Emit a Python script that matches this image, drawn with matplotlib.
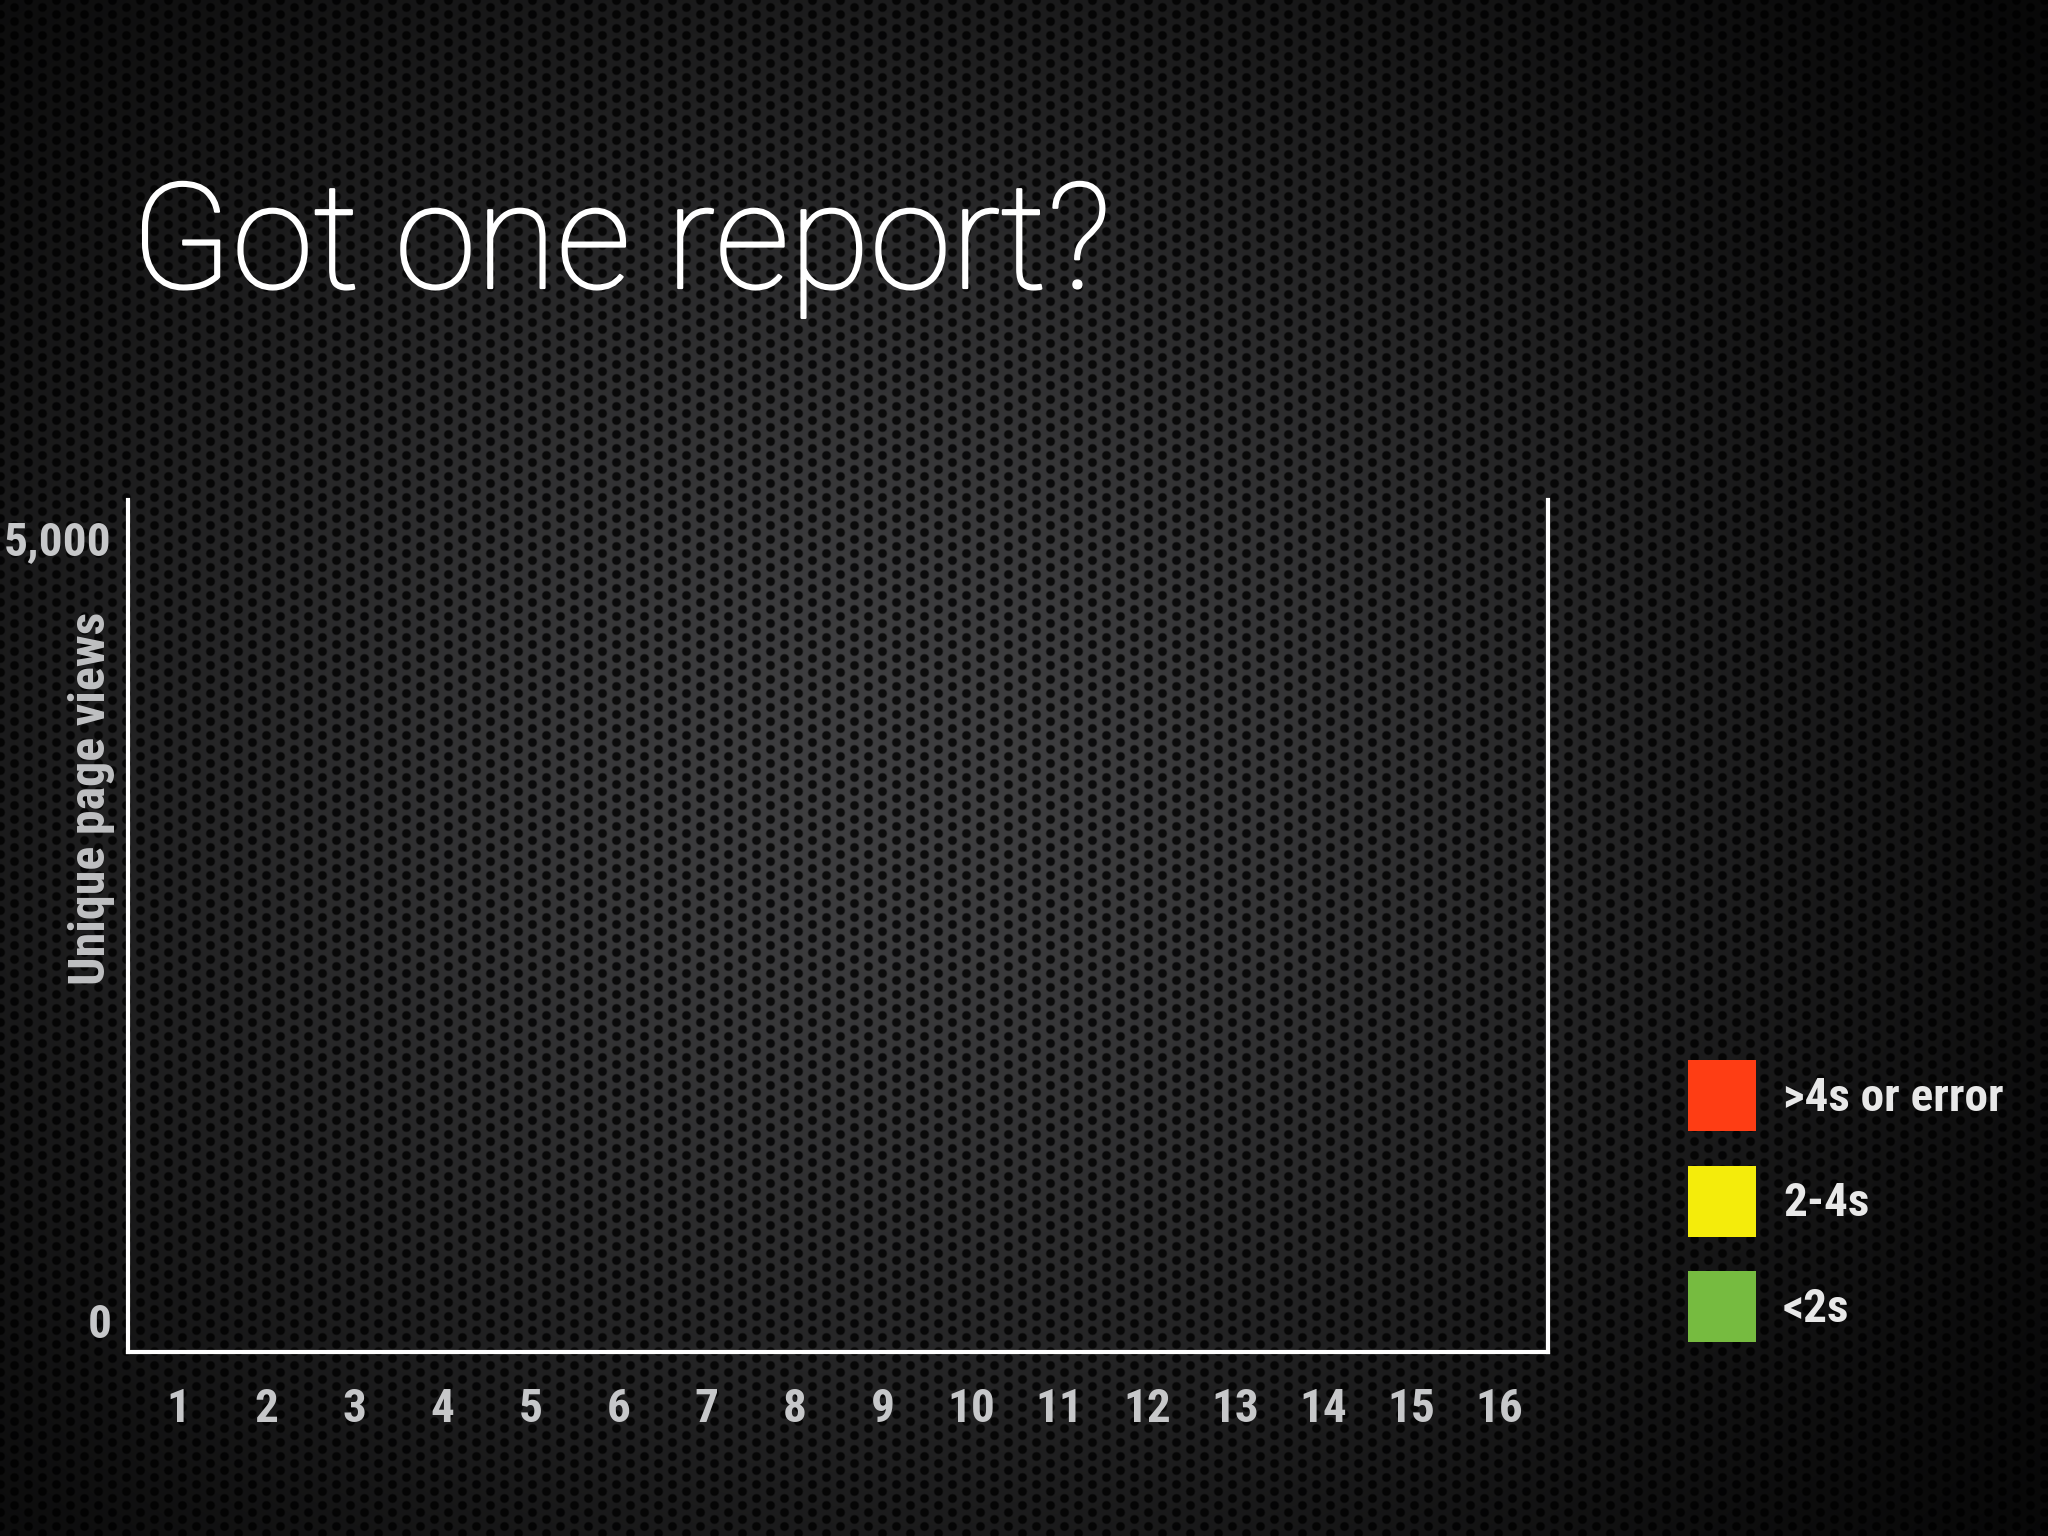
import os
import numpy as np
import matplotlib
matplotlib.use("Agg")
import matplotlib.pyplot as plt
import matplotlib.font_manager as fm
import matplotlib.patheffects as pe
from matplotlib.font_manager import FontProperties
from matplotlib.transforms import ScaledTranslation

# ---- data ----
categories = [1, 2, 3, 4, 5, 6, 7, 8, 9, 10, 11, 12, 13, 14, 15, 16]
under_2s = [0, 0, 0, 0, 0, 0, 0, 0, 0, 0, 0, 0, 0, 0, 0, 0]
s2_to_4s = [0, 0, 0, 0, 0, 0, 0, 0, 0, 0, 0, 0, 0, 0, 0, 0]
over_4s = [0, 0, 0, 0, 0, 0, 0, 0, 0, 0, 0, 0, 0, 0, 0, 0]
series_labels = ["<2s", "2-4s", ">4s or error"]
series_colors = ["#76bb40", "#f4ec0b", "#fe3d14"]
y_ticks = [0, 5000]
y_tick_labels = ["0", "5,000"]
title = "Got one report?"
y_label = "Unique page views"


# ---- condensed bold font lookup ----
def find_condensed():
    files = [f.fname for f in fm.fontManager.ttflist]
    prefs = ["liberationsansnarrow-bold.", "robotocondensed-bold.",
             "notosans-condensedbold.", "opensans-condensedbold.",
             "opensanscondensed-bold.", "dejavusanscondensed-bold."]
    for p in prefs:
        for f in files:
            b = os.path.basename(f).lower().replace("_", "").replace(" ", "")
            if b.startswith(p):
                return f
    return None


cond_path = find_condensed()


def cond_font(size):
    if cond_path:
        return FontProperties(fname=cond_path, size=size)
    return FontProperties(family="DejaVu Sans", weight="bold", stretch="condensed", size=size)


W, H = 2048, 1536
fig = plt.figure(figsize=(W / 100, H / 100), dpi=100)

# ---- background: perforated metal with vignette ----
yy, xx = np.mgrid[0:H, 0:W].astype(float)
dxa = ((xx + 14) % 28) - 14
dya = ((yy + 7) % 14) - 7
dxb = (xx % 28) - 14
dyb = (yy % 14) - 7
d = np.minimum(np.hypot(dxa, dya), np.hypot(dxb, dyb))
hole = np.clip((5.2 - d) / 1.6, 0, 1)
r = np.hypot((xx - 900) / 1100, (yy - 760) / 950)
vig = np.exp(-r ** 2 * 1.35)
metal = 0.235 * vig + 0.008
shade = metal * (1 - 0.8 * hole)
img = np.dstack([shade, shade, shade * 1.03])
img = np.clip(img, 0, 1)
bg = fig.add_axes([0, 0, 1, 1], zorder=-10)
bg.imshow(img, aspect="auto", extent=(0, 1, 0, 1), interpolation="bilinear")
bg.axis("off")

# ---- main axes ----
ax = fig.add_axes([128 / W, 1 - 1352 / H, 1420 / W, 852 / H])
ax.set_facecolor("none")
x = np.array(categories)
b1 = ax.bar(x, under_2s, color=series_colors[0], label=series_labels[0])
b2 = ax.bar(x, s2_to_4s, bottom=under_2s, color=series_colors[1], label=series_labels[1])
b3 = ax.bar(x, over_4s, bottom=np.array(under_2s) + np.array(s2_to_4s),
            color=series_colors[2], label=series_labels[2])

ax.set_xlim(0.43, 16.55)
ax.set_ylim(0, 5440)
ax.set_xticks(categories)
ax.set_xticklabels([str(c) for c in categories])
ax.set_yticks(y_ticks)
ax.set_yticklabels(y_tick_labels)

tick_color = "#c6c7c9"
ax.tick_params(axis="both", length=0, colors=tick_color)
ax.tick_params(axis="x", pad=25)
ax.tick_params(axis="y", pad=12)
for lab in ax.get_xticklabels() + ax.get_yticklabels():
    lab.set_fontproperties(cond_font(34))
for lab in ax.get_yticklabels():
    lab.set_verticalalignment("bottom")
    lab.set_transform(lab.get_transform() + ScaledTranslation(0, 0.045, fig.dpi_scale_trans))

for side in ["left", "bottom", "right"]:
    ax.spines[side].set_color("white")
    ax.spines[side].set_linewidth(3)
ax.spines["top"].set_visible(False)

# ---- title ----
fig.text(131 / W, 1 - 288 / H, title, color="white", fontsize=106,
         fontfamily=["Roboto", "DejaVu Sans"], fontweight="light",
         ha="left", va="baseline",
         path_effects=[pe.withStroke(linewidth=1.6, foreground="white")])

# ---- y label ----
fig.text(92 / W, 1 - 798 / H, y_label, rotation=90, color="#bfc0c2",
         fontproperties=cond_font(36), ha="center", va="center")

# ---- legend ----
handles = [b3, b2, b1]
labels = [series_labels[2], series_labels[1], series_labels[0]]
leg = fig.legend(handles, labels, loc="upper left",
                 bbox_to_anchor=(1688 / W, 1 - 1060 / H),
                 frameon=False, borderpad=0, borderaxespad=0,
                 handlelength=1.44, handleheight=1.94, handletextpad=0.57,
                 labelspacing=0.73, prop=cond_font(34))
for t in leg.get_texts():
    t.set_color("#e8e8e8")

fig.savefig("out.png", dpi=100)
